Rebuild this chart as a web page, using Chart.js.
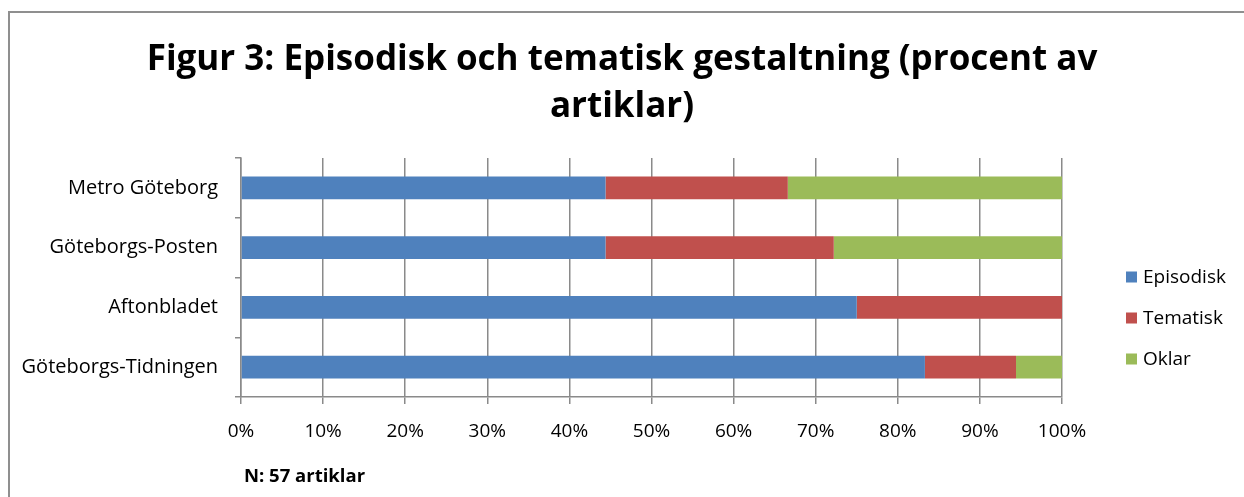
<!DOCTYPE html>
<html><head><meta charset="utf-8">
<script src="https://cdn.jsdelivr.net/npm/chart.js@4/dist/chart.umd.min.js"></script>
<style>
html,body{margin:0;padding:0;background:#fff;}
#wrap{position:relative;width:1244px;height:497px;overflow:hidden;}
#frame{position:absolute;left:8px;top:11px;width:1300px;height:600px;border-top:2px solid #8f8f8f;border-left:2px solid #8f8f8f;box-sizing:border-box;}
canvas{position:absolute;left:0;top:0;}
#note{position:absolute;left:244px;top:462px;font:bold 18.5px 'Open Sans', sans-serif;color:#000;}
</style></head><body>
<div id="wrap"><div id="frame"></div><canvas id="c" width="1244" height="497"></canvas><div id="note">N: 57 artiklar</div></div>
<script>
const categories = ['Metro Göteborg', 'Göteborgs-Posten', 'Aftonbladet', 'Göteborgs-Tidningen'];
const episodisk = [44.4, 44.4, 75.0, 83.3];
const tematisk = [22.2, 27.8, 25.0, 11.1];
const oklar = [33.4, 27.8, 0, 5.6];
const seriesNames = ['Episodisk', 'Tematisk', 'Oklar'];
const seriesColors = ['#4F81BD', '#C0504D', '#9BBB59'];
const xTicks = [0, 10, 20, 30, 40, 50, 60, 70, 80, 90, 100];
const titleLines = ['Figur 3: Episodisk och tematisk gestaltning (procent av', 'artiklar)'];

const FONT = 'Open Sans';
const GRID = '#8a8a8a';

const customLegend = {
  id: 'customLegend',
  afterDraw(chart) {
    const ctx = chart.ctx;
    const ca = chart.chartArea;
    const x = ca.right + 64;
    const mid = (ca.top + ca.bottom) / 2 + 41;
    const step = 41;
    ctx.save();
    ctx.font = '19px ' + FONT;
    ctx.textBaseline = 'middle';
    ctx.textAlign = 'left';
    chart.data.datasets.forEach((ds, i) => {
      const y = mid + (i - 1) * step;
      ctx.fillStyle = ds.backgroundColor;
      ctx.fillRect(x, y - 6, 11, 11);
      ctx.fillStyle = '#000';
      ctx.fillText(ds.label, x + 17, y);
    });
    ctx.restore();
  }
};

new Chart(document.getElementById('c'), {
  type: 'bar',
  data: {
    labels: categories,
    datasets: [
      { label: seriesNames[0], data: episodisk, backgroundColor: seriesColors[0] },
      { label: seriesNames[1], data: tematisk, backgroundColor: seriesColors[1] },
      { label: seriesNames[2], data: oklar, backgroundColor: seriesColors[2] }
    ]
  },
  options: {
    indexAxis: 'y',
    responsive: false,
    animation: false,
    devicePixelRatio: 1,
    datasets: { bar: { barPercentage: 0.38, categoryPercentage: 1, borderWidth: 0 } },
    layout: { padding: 0 },
    plugins: {
      legend: { display: false },
      tooltip: { enabled: false },
      title: {
        display: true,
        text: titleLines,
        color: '#000',
        font: { family: FONT, size: 35, weight: 'bold', lineHeight: 47 / 35 },
        padding: { top: 37, bottom: 27 }
      }
    },
    scales: {
      x: {
        stacked: true,
        min: 0, max: 100,
        afterBuildTicks(scale) { scale.ticks = xTicks.map(v => ({ value: v })); },
        afterFit(scale) { scale.height = 100; },
        grid: { color: GRID, lineWidth: 1.5, tickLength: 7, drawOnChartArea: true },
        border: { color: GRID, width: 1.5 },
        ticks: { color: '#000', padding: 16, font: { family: FONT, size: 19 }, callback: v => v + '%' }
      },
      y: {
        stacked: true,
        afterFit(scale) { scale.width = 241; },
        grid: { offset: true, drawOnChartArea: false, color: GRID, lineWidth: 1.5, tickLength: 6 },
        border: { color: GRID, width: 1.5 },
        ticks: { color: '#000', padding: 17, font: { family: FONT, size: 20 } }
      },
      legendSpace: {
        type: 'category',
        position: 'right',
        display: true,
        afterFit(scale) { scale.width = 182; },
        grid: { display: false },
        border: { display: false },
        ticks: { display: false }
      }
    }
  },
  plugins: [customLegend]
});
</script>
</body></html>
